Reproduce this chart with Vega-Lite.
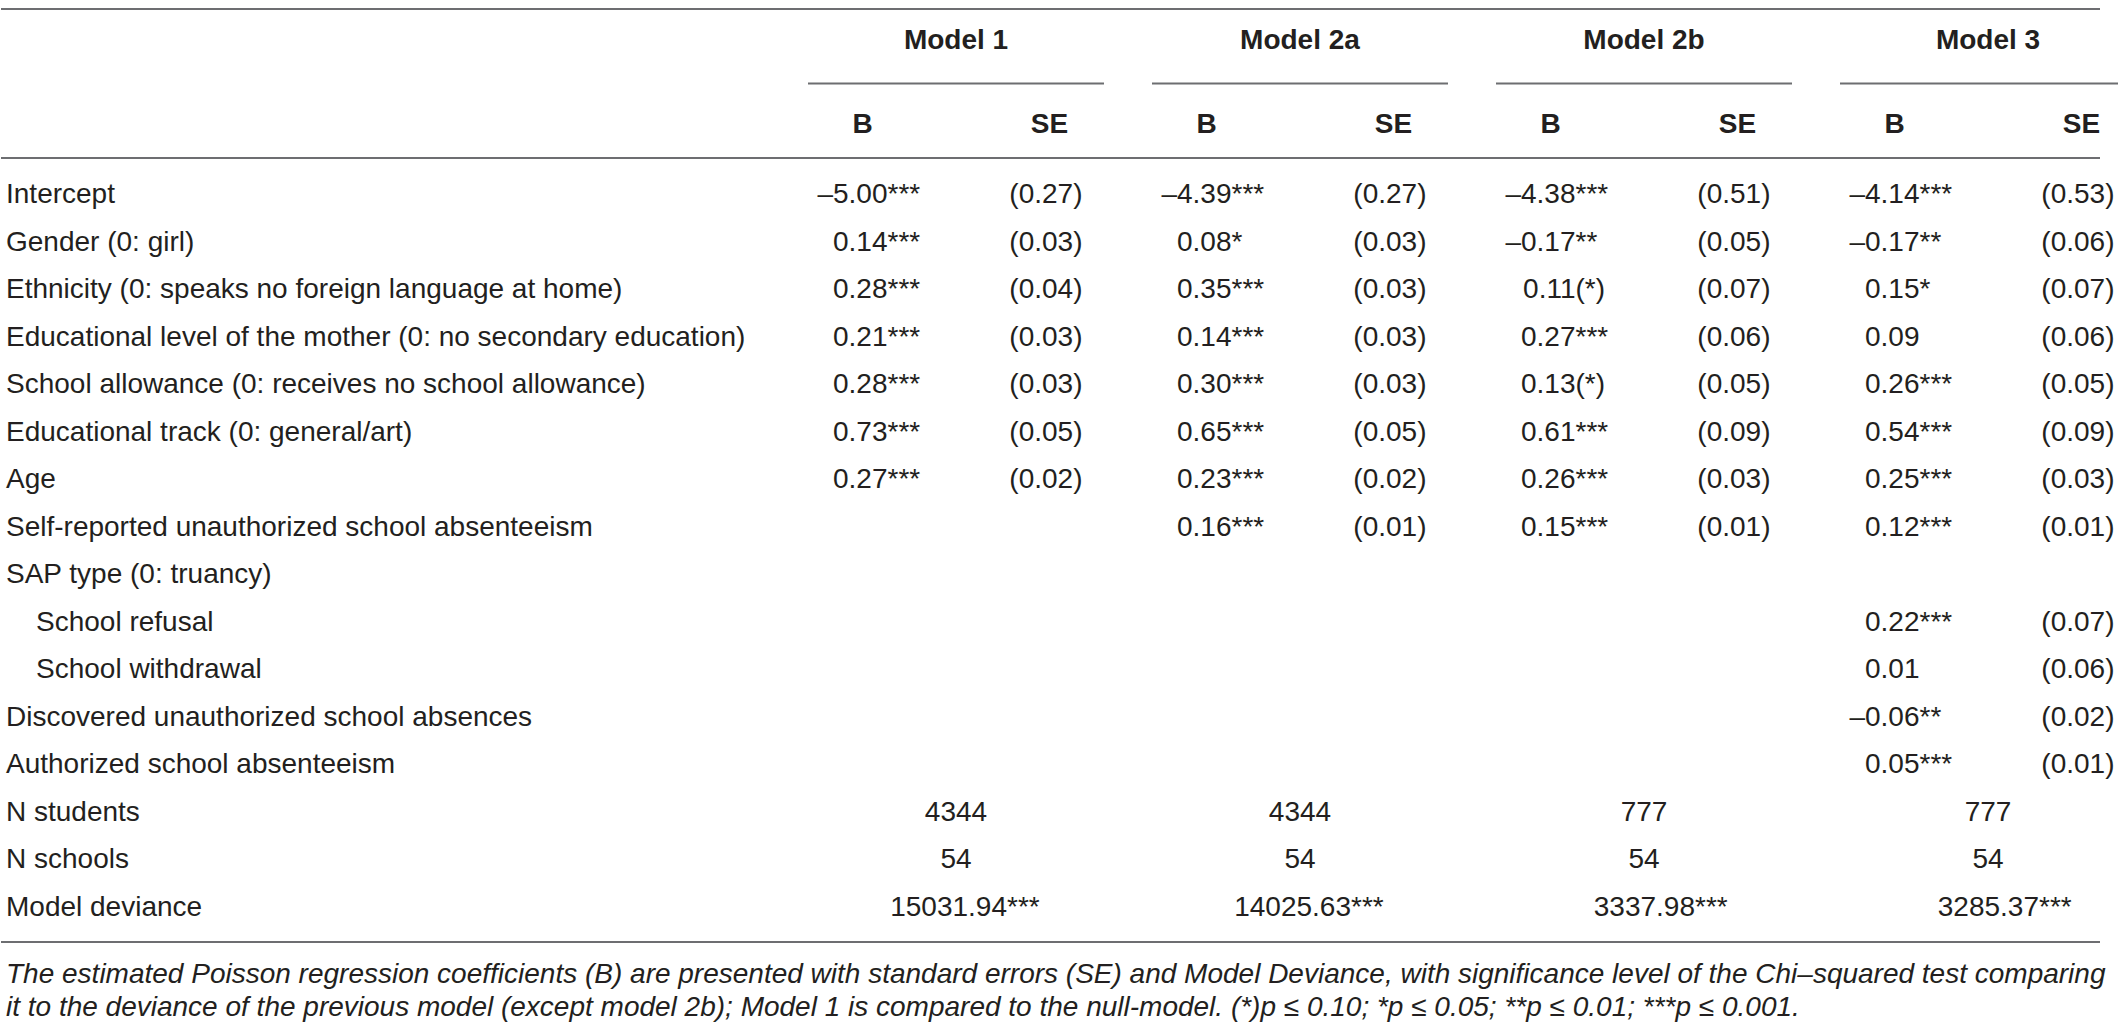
{
  "$schema": "https://vega.github.io/schema/vega-lite/v6.json",
  "width": 2118,
  "height": 1025,
  "autosize": {"type": "fit", "contains": "padding"},
  "padding": 0,
  "background": "white",
  "config": {
    "view": {"stroke": null},
    "text": {"font": "Liberation Sans", "fontSize": 28, "color": "#231f20", "baseline": "middle"}
  },
  "datasets": {
    "rows": [
      {"var": "Intercept", "level": "main"},
      {"var": "Gender (0: girl)", "level": "main"},
      {"var": "Ethnicity (0: speaks no foreign language at home)", "level": "main"},
      {"var": "Educational level of the mother (0: no secondary education)", "level": "main"},
      {"var": "School allowance (0: receives no school allowance)", "level": "main"},
      {"var": "Educational track (0: general/art)", "level": "main"},
      {"var": "Age", "level": "main"},
      {"var": "Self-reported unauthorized school absenteeism", "level": "main"},
      {"var": "SAP type (0: truancy)", "level": "main"},
      {"var": "School refusal", "level": "sub"},
      {"var": "School withdrawal", "level": "sub"},
      {"var": "Discovered unauthorized school absences", "level": "main"},
      {"var": "Authorized school absenteeism", "level": "main"},
      {"var": "N students", "level": "main"},
      {"var": "N schools", "level": "main"},
      {"var": "Model deviance", "level": "main"}
    ],
    "models": [
      {"model": "Model 1"}, {"model": "Model 2a"}, {"model": "Model 2b"}, {"model": "Model 3"}
    ],
    "stats": [
      {"model": "Model 1", "stat": "B"}, {"model": "Model 1", "stat": "SE"},
      {"model": "Model 2a", "stat": "B"}, {"model": "Model 2a", "stat": "SE"},
      {"model": "Model 2b", "stat": "B"}, {"model": "Model 2b", "stat": "SE"},
      {"model": "Model 3", "stat": "B"}, {"model": "Model 3", "stat": "SE"}
    ],
    "coef": [
      {"var": "Intercept", "model": "Model 1", "stat": "B", "value": "–5.00", "sig": "***"},
      {"var": "Intercept", "model": "Model 1", "stat": "SE", "value": "(0.27)", "sig": ""},
      {"var": "Intercept", "model": "Model 2a", "stat": "B", "value": "–4.39", "sig": "***"},
      {"var": "Intercept", "model": "Model 2a", "stat": "SE", "value": "(0.27)", "sig": ""},
      {"var": "Intercept", "model": "Model 2b", "stat": "B", "value": "–4.38", "sig": "***"},
      {"var": "Intercept", "model": "Model 2b", "stat": "SE", "value": "(0.51)", "sig": ""},
      {"var": "Intercept", "model": "Model 3", "stat": "B", "value": "–4.14", "sig": "***"},
      {"var": "Intercept", "model": "Model 3", "stat": "SE", "value": "(0.53)", "sig": ""},
      {"var": "Gender (0: girl)", "model": "Model 1", "stat": "B", "value": "0.14", "sig": "***"},
      {"var": "Gender (0: girl)", "model": "Model 1", "stat": "SE", "value": "(0.03)", "sig": ""},
      {"var": "Gender (0: girl)", "model": "Model 2a", "stat": "B", "value": "0.08", "sig": "*"},
      {"var": "Gender (0: girl)", "model": "Model 2a", "stat": "SE", "value": "(0.03)", "sig": ""},
      {"var": "Gender (0: girl)", "model": "Model 2b", "stat": "B", "value": "–0.17", "sig": "**"},
      {"var": "Gender (0: girl)", "model": "Model 2b", "stat": "SE", "value": "(0.05)", "sig": ""},
      {"var": "Gender (0: girl)", "model": "Model 3", "stat": "B", "value": "–0.17", "sig": "**"},
      {"var": "Gender (0: girl)", "model": "Model 3", "stat": "SE", "value": "(0.06)", "sig": ""},
      {"var": "Ethnicity (0: speaks no foreign language at home)", "model": "Model 1", "stat": "B", "value": "0.28", "sig": "***"},
      {"var": "Ethnicity (0: speaks no foreign language at home)", "model": "Model 1", "stat": "SE", "value": "(0.04)", "sig": ""},
      {"var": "Ethnicity (0: speaks no foreign language at home)", "model": "Model 2a", "stat": "B", "value": "0.35", "sig": "***"},
      {"var": "Ethnicity (0: speaks no foreign language at home)", "model": "Model 2a", "stat": "SE", "value": "(0.03)", "sig": ""},
      {"var": "Ethnicity (0: speaks no foreign language at home)", "model": "Model 2b", "stat": "B", "value": "0.11", "sig": "(*)"},
      {"var": "Ethnicity (0: speaks no foreign language at home)", "model": "Model 2b", "stat": "SE", "value": "(0.07)", "sig": ""},
      {"var": "Ethnicity (0: speaks no foreign language at home)", "model": "Model 3", "stat": "B", "value": "0.15", "sig": "*"},
      {"var": "Ethnicity (0: speaks no foreign language at home)", "model": "Model 3", "stat": "SE", "value": "(0.07)", "sig": ""},
      {"var": "Educational level of the mother (0: no secondary education)", "model": "Model 1", "stat": "B", "value": "0.21", "sig": "***"},
      {"var": "Educational level of the mother (0: no secondary education)", "model": "Model 1", "stat": "SE", "value": "(0.03)", "sig": ""},
      {"var": "Educational level of the mother (0: no secondary education)", "model": "Model 2a", "stat": "B", "value": "0.14", "sig": "***"},
      {"var": "Educational level of the mother (0: no secondary education)", "model": "Model 2a", "stat": "SE", "value": "(0.03)", "sig": ""},
      {"var": "Educational level of the mother (0: no secondary education)", "model": "Model 2b", "stat": "B", "value": "0.27", "sig": "***"},
      {"var": "Educational level of the mother (0: no secondary education)", "model": "Model 2b", "stat": "SE", "value": "(0.06)", "sig": ""},
      {"var": "Educational level of the mother (0: no secondary education)", "model": "Model 3", "stat": "B", "value": "0.09", "sig": ""},
      {"var": "Educational level of the mother (0: no secondary education)", "model": "Model 3", "stat": "SE", "value": "(0.06)", "sig": ""},
      {"var": "School allowance (0: receives no school allowance)", "model": "Model 1", "stat": "B", "value": "0.28", "sig": "***"},
      {"var": "School allowance (0: receives no school allowance)", "model": "Model 1", "stat": "SE", "value": "(0.03)", "sig": ""},
      {"var": "School allowance (0: receives no school allowance)", "model": "Model 2a", "stat": "B", "value": "0.30", "sig": "***"},
      {"var": "School allowance (0: receives no school allowance)", "model": "Model 2a", "stat": "SE", "value": "(0.03)", "sig": ""},
      {"var": "School allowance (0: receives no school allowance)", "model": "Model 2b", "stat": "B", "value": "0.13", "sig": "(*)"},
      {"var": "School allowance (0: receives no school allowance)", "model": "Model 2b", "stat": "SE", "value": "(0.05)", "sig": ""},
      {"var": "School allowance (0: receives no school allowance)", "model": "Model 3", "stat": "B", "value": "0.26", "sig": "***"},
      {"var": "School allowance (0: receives no school allowance)", "model": "Model 3", "stat": "SE", "value": "(0.05)", "sig": ""},
      {"var": "Educational track (0: general/art)", "model": "Model 1", "stat": "B", "value": "0.73", "sig": "***"},
      {"var": "Educational track (0: general/art)", "model": "Model 1", "stat": "SE", "value": "(0.05)", "sig": ""},
      {"var": "Educational track (0: general/art)", "model": "Model 2a", "stat": "B", "value": "0.65", "sig": "***"},
      {"var": "Educational track (0: general/art)", "model": "Model 2a", "stat": "SE", "value": "(0.05)", "sig": ""},
      {"var": "Educational track (0: general/art)", "model": "Model 2b", "stat": "B", "value": "0.61", "sig": "***"},
      {"var": "Educational track (0: general/art)", "model": "Model 2b", "stat": "SE", "value": "(0.09)", "sig": ""},
      {"var": "Educational track (0: general/art)", "model": "Model 3", "stat": "B", "value": "0.54", "sig": "***"},
      {"var": "Educational track (0: general/art)", "model": "Model 3", "stat": "SE", "value": "(0.09)", "sig": ""},
      {"var": "Age", "model": "Model 1", "stat": "B", "value": "0.27", "sig": "***"},
      {"var": "Age", "model": "Model 1", "stat": "SE", "value": "(0.02)", "sig": ""},
      {"var": "Age", "model": "Model 2a", "stat": "B", "value": "0.23", "sig": "***"},
      {"var": "Age", "model": "Model 2a", "stat": "SE", "value": "(0.02)", "sig": ""},
      {"var": "Age", "model": "Model 2b", "stat": "B", "value": "0.26", "sig": "***"},
      {"var": "Age", "model": "Model 2b", "stat": "SE", "value": "(0.03)", "sig": ""},
      {"var": "Age", "model": "Model 3", "stat": "B", "value": "0.25", "sig": "***"},
      {"var": "Age", "model": "Model 3", "stat": "SE", "value": "(0.03)", "sig": ""},
      {"var": "Self-reported unauthorized school absenteeism", "model": "Model 2a", "stat": "B", "value": "0.16", "sig": "***"},
      {"var": "Self-reported unauthorized school absenteeism", "model": "Model 2a", "stat": "SE", "value": "(0.01)", "sig": ""},
      {"var": "Self-reported unauthorized school absenteeism", "model": "Model 2b", "stat": "B", "value": "0.15", "sig": "***"},
      {"var": "Self-reported unauthorized school absenteeism", "model": "Model 2b", "stat": "SE", "value": "(0.01)", "sig": ""},
      {"var": "Self-reported unauthorized school absenteeism", "model": "Model 3", "stat": "B", "value": "0.12", "sig": "***"},
      {"var": "Self-reported unauthorized school absenteeism", "model": "Model 3", "stat": "SE", "value": "(0.01)", "sig": ""},
      {"var": "School refusal", "model": "Model 3", "stat": "B", "value": "0.22", "sig": "***"},
      {"var": "School refusal", "model": "Model 3", "stat": "SE", "value": "(0.07)", "sig": ""},
      {"var": "School withdrawal", "model": "Model 3", "stat": "B", "value": "0.01", "sig": ""},
      {"var": "School withdrawal", "model": "Model 3", "stat": "SE", "value": "(0.06)", "sig": ""},
      {"var": "Discovered unauthorized school absences", "model": "Model 3", "stat": "B", "value": "–0.06", "sig": "**"},
      {"var": "Discovered unauthorized school absences", "model": "Model 3", "stat": "SE", "value": "(0.02)", "sig": ""},
      {"var": "Authorized school absenteeism", "model": "Model 3", "stat": "B", "value": "0.05", "sig": "***"},
      {"var": "Authorized school absenteeism", "model": "Model 3", "stat": "SE", "value": "(0.01)", "sig": ""}
    ],
    "totals": [
      {"var": "N students", "model": "Model 1", "value": "4344", "sig": ""},
      {"var": "N students", "model": "Model 2a", "value": "4344", "sig": ""},
      {"var": "N students", "model": "Model 2b", "value": "777", "sig": ""},
      {"var": "N students", "model": "Model 3", "value": "777", "sig": ""},
      {"var": "N schools", "model": "Model 1", "value": "54", "sig": ""},
      {"var": "N schools", "model": "Model 2a", "value": "54", "sig": ""},
      {"var": "N schools", "model": "Model 2b", "value": "54", "sig": ""},
      {"var": "N schools", "model": "Model 3", "value": "54", "sig": ""},
      {"var": "Model deviance", "model": "Model 1", "value": "15031.94", "sig": "***"},
      {"var": "Model deviance", "model": "Model 2a", "value": "14025.63", "sig": "***"},
      {"var": "Model deviance", "model": "Model 2b", "value": "3337.98", "sig": "***"},
      {"var": "Model deviance", "model": "Model 3", "value": "3285.37", "sig": "***"}
    ],
    "lines": [{"line": "top"}, {"line": "hline"}],
    "bottomline": [{"line": "bottom"}],
    "notes": [
      {"line": "fn1", "text": "The estimated Poisson regression coefficients (B) are presented with standard errors (SE) and Model Deviance, with significance level of the Chi–squared test comparing"},
      {"line": "fn2", "text": "it to the deviance of the previous model (except model 2b); Model 1 is compared to the null-model. (*)p ≤ 0.10; *p ≤ 0.05; **p ≤ 0.01; ***p ≤ 0.001."}
    ]
  },
  "resolve": {"scale": {"x": "independent", "y": "independent"}},
  "layer": [
    {
      "data": {"name": "lines"},
      "mark": {"type": "rule", "stroke": "#6d6e71", "strokeWidth": 2},
      "encoding": {
        "y": {"field": "line", "type": "nominal", "axis": null,
              "scale": {"type": "point", "domain": ["top", "underline", "hline"], "range": [9, 158], "padding": 0}}
      }
    },
    {
      "data": {"name": "bottomline"},
      "mark": {"type": "rule", "stroke": "#6d6e71", "strokeWidth": 2},
      "encoding": {
        "y": {"field": "line", "type": "nominal", "axis": null,
              "scale": {"type": "point", "domain": ["bottom", "fn1", "fn2"], "range": [942, 1008], "padding": 0}}
      }
    },
    {
      "data": {"name": "models"},
      "mark": {"type": "tick", "orient": "horizontal", "size": 296, "thickness": 2, "color": "#6d6e71", "opacity": 1},
      "encoding": {
        "x": {"field": "model", "type": "nominal", "axis": null,
              "scale": {"type": "band", "domain": ["Model 1", "Model 2a", "Model 2b", "Model 3"], "range": [824, 2118], "paddingInner": 0.2384, "paddingOuter": 0}},
        "y": {"datum": "underline", "type": "nominal", "axis": null,
              "scale": {"type": "point", "domain": ["top", "underline", "hline"], "range": [9, 158], "padding": 0}}
      }
    },
    {
      "data": {"name": "models"},
      "mark": {"type": "text", "fontWeight": "bold", "align": "center"},
      "encoding": {
        "x": {"field": "model", "type": "nominal", "axis": null,
              "scale": {"type": "band", "domain": ["Model 1", "Model 2a", "Model 2b", "Model 3"], "range": [824, 2118], "paddingInner": 0.2384, "paddingOuter": 0}},
        "y": {"datum": "model", "type": "nominal", "axis": null,
              "scale": {"type": "point", "domain": ["model", "stat"], "range": [41, 125], "padding": 0}},
        "text": {"field": "model"}
      }
    },
    {
      "data": {"name": "stats"},
      "mark": {"type": "text", "fontWeight": "bold", "align": "center"},
      "encoding": {
        "x": {"field": "model", "type": "nominal", "axis": null,
              "scale": {"type": "band", "domain": ["Model 1", "Model 2a", "Model 2b", "Model 3"], "range": [824, 2118], "paddingInner": 0.2384, "paddingOuter": 0}},
        "xOffset": {"field": "stat", "type": "nominal",
              "scale": {"type": "point", "domain": ["B", "SE"], "padding": 0.2005}},
        "y": {"datum": "stat", "type": "nominal", "axis": null,
              "scale": {"type": "point", "domain": ["model", "stat"], "range": [41, 125], "padding": 0}},
        "text": {"field": "stat"}
      }
    },
    {
      "data": {"name": "coef"},
      "transform": [{"filter": {"field": "stat", "equal": "B"}}],
      "mark": {"type": "text", "align": "right", "dx": 25},
      "encoding": {
        "x": {"field": "model", "type": "nominal", "axis": null,
              "scale": {"type": "band", "domain": ["Model 1", "Model 2a", "Model 2b", "Model 3"], "range": [824, 2118], "paddingInner": 0.2384, "paddingOuter": 0}},
        "xOffset": {"field": "stat", "type": "nominal",
              "scale": {"type": "point", "domain": ["B", "SE"], "padding": 0.2005}},
        "y": {"field": "var", "type": "nominal", "axis": null,
              "scale": {"type": "point", "domain": ["Intercept", "Gender (0: girl)", "Ethnicity (0: speaks no foreign language at home)", "Educational level of the mother (0: no secondary education)", "School allowance (0: receives no school allowance)", "Educational track (0: general/art)", "Age", "Self-reported unauthorized school absenteeism", "SAP type (0: truancy)", "School refusal", "School withdrawal", "Discovered unauthorized school absences", "Authorized school absenteeism", "N students", "N schools", "Model deviance"], "range": [195, 908], "padding": 0}},
        "text": {"field": "value"}
      }
    },
    {
      "data": {"name": "coef"},
      "transform": [{"filter": {"field": "stat", "equal": "B"}}],
      "mark": {"type": "text", "align": "left", "dx": 25},
      "encoding": {
        "x": {"field": "model", "type": "nominal", "axis": null,
              "scale": {"type": "band", "domain": ["Model 1", "Model 2a", "Model 2b", "Model 3"], "range": [824, 2118], "paddingInner": 0.2384, "paddingOuter": 0}},
        "xOffset": {"field": "stat", "type": "nominal",
              "scale": {"type": "point", "domain": ["B", "SE"], "padding": 0.2005}},
        "y": {"field": "var", "type": "nominal", "axis": null,
              "scale": {"type": "point", "domain": ["Intercept", "Gender (0: girl)", "Ethnicity (0: speaks no foreign language at home)", "Educational level of the mother (0: no secondary education)", "School allowance (0: receives no school allowance)", "Educational track (0: general/art)", "Age", "Self-reported unauthorized school absenteeism", "SAP type (0: truancy)", "School refusal", "School withdrawal", "Discovered unauthorized school absences", "Authorized school absenteeism", "N students", "N schools", "Model deviance"], "range": [195, 908], "padding": 0}},
        "text": {"field": "sig"}
      }
    },
    {
      "data": {"name": "coef"},
      "transform": [{"filter": {"field": "stat", "equal": "SE"}}],
      "mark": {"type": "text", "align": "right", "dx": 33},
      "encoding": {
        "x": {"field": "model", "type": "nominal", "axis": null,
              "scale": {"type": "band", "domain": ["Model 1", "Model 2a", "Model 2b", "Model 3"], "range": [824, 2118], "paddingInner": 0.2384, "paddingOuter": 0}},
        "xOffset": {"field": "stat", "type": "nominal",
              "scale": {"type": "point", "domain": ["B", "SE"], "padding": 0.2005}},
        "y": {"field": "var", "type": "nominal", "axis": null,
              "scale": {"type": "point", "domain": ["Intercept", "Gender (0: girl)", "Ethnicity (0: speaks no foreign language at home)", "Educational level of the mother (0: no secondary education)", "School allowance (0: receives no school allowance)", "Educational track (0: general/art)", "Age", "Self-reported unauthorized school absenteeism", "SAP type (0: truancy)", "School refusal", "School withdrawal", "Discovered unauthorized school absences", "Authorized school absenteeism", "N students", "N schools", "Model deviance"], "range": [195, 908], "padding": 0}},
        "text": {"field": "value"}
      }
    },
    {
      "data": {"name": "totals"},
      "transform": [{"filter": {"field": "var", "oneOf": ["N students", "N schools"]}}],
      "mark": {"type": "text", "align": "center"},
      "encoding": {
        "x": {"field": "model", "type": "nominal", "axis": null,
              "scale": {"type": "band", "domain": ["Model 1", "Model 2a", "Model 2b", "Model 3"], "range": [824, 2118], "paddingInner": 0.2384, "paddingOuter": 0}},
        "y": {"field": "var", "type": "nominal", "axis": null,
              "scale": {"type": "point", "domain": ["Intercept", "Gender (0: girl)", "Ethnicity (0: speaks no foreign language at home)", "Educational level of the mother (0: no secondary education)", "School allowance (0: receives no school allowance)", "Educational track (0: general/art)", "Age", "Self-reported unauthorized school absenteeism", "SAP type (0: truancy)", "School refusal", "School withdrawal", "Discovered unauthorized school absences", "Authorized school absenteeism", "N students", "N schools", "Model deviance"], "range": [195, 908], "padding": 0}},
        "text": {"field": "value"}
      }
    },
    {
      "data": {"name": "totals"},
      "transform": [{"filter": {"field": "var", "equal": "Model deviance"}}],
      "mark": {"type": "text", "align": "right", "dx": 51},
      "encoding": {
        "x": {"field": "model", "type": "nominal", "axis": null,
              "scale": {"type": "band", "domain": ["Model 1", "Model 2a", "Model 2b", "Model 3"], "range": [824, 2118], "paddingInner": 0.2384, "paddingOuter": 0}},
        "y": {"field": "var", "type": "nominal", "axis": null,
              "scale": {"type": "point", "domain": ["Intercept", "Gender (0: girl)", "Ethnicity (0: speaks no foreign language at home)", "Educational level of the mother (0: no secondary education)", "School allowance (0: receives no school allowance)", "Educational track (0: general/art)", "Age", "Self-reported unauthorized school absenteeism", "SAP type (0: truancy)", "School refusal", "School withdrawal", "Discovered unauthorized school absences", "Authorized school absenteeism", "N students", "N schools", "Model deviance"], "range": [195, 908], "padding": 0}},
        "text": {"field": "value"}
      }
    },
    {
      "data": {"name": "totals"},
      "transform": [{"filter": {"field": "var", "equal": "Model deviance"}}],
      "mark": {"type": "text", "align": "left", "dx": 51},
      "encoding": {
        "x": {"field": "model", "type": "nominal", "axis": null,
              "scale": {"type": "band", "domain": ["Model 1", "Model 2a", "Model 2b", "Model 3"], "range": [824, 2118], "paddingInner": 0.2384, "paddingOuter": 0}},
        "y": {"field": "var", "type": "nominal", "axis": null,
              "scale": {"type": "point", "domain": ["Intercept", "Gender (0: girl)", "Ethnicity (0: speaks no foreign language at home)", "Educational level of the mother (0: no secondary education)", "School allowance (0: receives no school allowance)", "Educational track (0: general/art)", "Age", "Self-reported unauthorized school absenteeism", "SAP type (0: truancy)", "School refusal", "School withdrawal", "Discovered unauthorized school absences", "Authorized school absenteeism", "N students", "N schools", "Model deviance"], "range": [195, 908], "padding": 0}},
        "text": {"field": "sig"}
      }
    },
    {
      "data": {"name": "rows"},
      "mark": {"type": "text", "align": "left", "dx": 5},
      "encoding": {
        "x": {"field": "level", "type": "nominal", "axis": null,
              "scale": {"type": "point", "domain": ["main", "sub"], "range": [0, 30], "padding": 0}},
        "y": {"field": "var", "type": "nominal", "axis": null,
              "scale": {"type": "point", "domain": ["Intercept", "Gender (0: girl)", "Ethnicity (0: speaks no foreign language at home)", "Educational level of the mother (0: no secondary education)", "School allowance (0: receives no school allowance)", "Educational track (0: general/art)", "Age", "Self-reported unauthorized school absenteeism", "SAP type (0: truancy)", "School refusal", "School withdrawal", "Discovered unauthorized school absences", "Authorized school absenteeism", "N students", "N schools", "Model deviance"], "range": [195, 908], "padding": 0}},
        "text": {"field": "var"}
      }
    },
    {
      "data": {"name": "notes"},
      "mark": {"type": "text", "align": "left", "dx": 5, "fontStyle": "italic", "fontSize": 28},
      "encoding": {
        "x": {"datum": 0, "type": "quantitative", "axis": null, "scale": {"domain": [0, 1]}},
        "y": {"field": "line", "type": "nominal", "axis": null,
              "scale": {"type": "point", "domain": ["bottom", "fn1", "fn2"], "range": [942, 1008], "padding": 0}},
        "text": {"field": "text"}
      }
    }
  ]
}
